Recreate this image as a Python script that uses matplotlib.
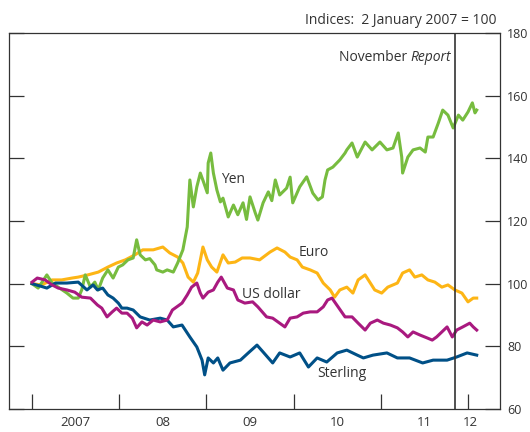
import matplotlib
matplotlib.use('Agg')
import matplotlib.pyplot as plt

plt.rcParams['font.family'] = ['Open Sans', 'DejaVu Sans']

# dates as decimal years, values are indices (2 January 2007 = 100)
yen_t = [2007.00, 2007.07, 2007.17, 2007.23, 2007.30, 2007.40, 2007.47, 2007.53, 2007.57, 2007.61,
         2007.67, 2007.72, 2007.76, 2007.81, 2007.87, 2007.93, 2007.99, 2008.04, 2008.10, 2008.16,
         2008.20, 2008.24, 2008.30, 2008.35, 2008.41, 2008.43, 2008.50, 2008.55, 2008.62, 2008.67,
         2008.73, 2008.78, 2008.81, 2008.85, 2008.89, 2008.93, 2008.96, 2009.01, 2009.02, 2009.05,
         2009.08, 2009.12, 2009.16, 2009.19, 2009.25, 2009.31, 2009.36, 2009.42, 2009.46, 2009.50,
         2009.56, 2009.59, 2009.65, 2009.71, 2009.75, 2009.79, 2009.84, 2009.92, 2009.96, 2009.99,
         2010.07, 2010.15, 2010.22, 2010.28, 2010.33, 2010.36, 2010.39, 2010.45, 2010.53, 2010.59,
         2010.61, 2010.67, 2010.73, 2010.82, 2010.90, 2010.99, 2011.07, 2011.14, 2011.20, 2011.24,
         2011.25, 2011.31, 2011.37, 2011.45, 2011.51, 2011.54, 2011.60, 2011.66, 2011.71, 2011.77,
         2011.83, 2011.89, 2011.94, 2012.00, 2012.05, 2012.08, 2012.10]
yen_v = [100.0, 98.6, 102.8, 100.2, 98.9, 97.0, 95.4, 95.4, 98.0, 102.8,
         98.9, 100.5, 98.0, 101.8, 104.4, 101.8, 105.3, 106.0, 107.6, 108.2,
         114.0, 109.2, 107.6, 108.0, 106.0, 104.4, 103.7, 104.4, 103.7, 106.6,
         110.8, 118.1, 133.1, 124.5, 130.9, 135.3, 133.0, 129.0, 138.5, 141.7,
         135.3, 129.9, 126.1, 127.3, 121.3, 125.1, 122.0, 125.8, 120.5, 127.7,
         122.6, 120.3, 125.8, 129.3, 126.5, 133.1, 128.3, 130.5, 134.0, 125.8,
         130.9, 134.1, 128.9, 126.7, 127.7, 133.1, 136.3, 137.2, 139.5, 141.7,
         142.7, 144.9, 140.4, 145.2, 142.7, 145.2, 142.7, 143.3, 148.1, 140.4,
         135.3, 140.4, 142.7, 143.3, 142.0, 146.8, 146.8, 151.3, 155.4, 153.8,
         149.7, 153.8, 152.2, 154.8, 157.7, 154.5, 155.4]

euro_t = [2007.00, 2007.11, 2007.23, 2007.34, 2007.46, 2007.53, 2007.64, 2007.76, 2007.87, 2007.97,
          2008.07, 2008.18, 2008.27, 2008.39, 2008.50, 2008.58, 2008.67, 2008.73, 2008.79, 2008.85,
          2008.90, 2008.96, 2009.01, 2009.06, 2009.12, 2009.19, 2009.25, 2009.33, 2009.41, 2009.50,
          2009.61, 2009.73, 2009.81, 2009.90, 2009.96, 2010.04, 2010.10, 2010.19, 2010.27, 2010.34,
          2010.42, 2010.47, 2010.53, 2010.61, 2010.68, 2010.74, 2010.82, 2010.88, 2010.93, 2011.01,
          2011.08, 2011.19, 2011.25, 2011.33, 2011.39, 2011.47, 2011.54, 2011.62, 2011.70, 2011.77,
          2011.85, 2011.93, 2012.00, 2012.06, 2012.10]
euro_v = [100.0, 99.6, 101.2, 101.2, 101.8, 102.1, 102.8, 103.7, 105.3, 106.6,
          107.6, 109.2, 110.8, 110.8, 111.7, 109.8, 108.5, 106.6, 102.1, 100.5,
          103.4, 111.7, 107.6, 105.3, 103.7, 109.2, 106.6, 106.9, 108.2, 108.2,
          107.6, 110.1, 111.4, 110.1, 108.5, 107.6, 105.3, 104.4, 103.4, 100.2,
          98.0, 95.7, 98.0, 98.9, 97.0, 101.2, 102.8, 100.2, 98.0, 97.0,
          98.9, 100.2, 103.4, 104.4, 102.1, 102.8, 101.2, 100.5, 98.9, 99.6,
          98.0, 97.0, 94.2, 95.4, 95.4]

usd_t = [2007.00, 2007.06, 2007.15, 2007.23, 2007.30, 2007.40, 2007.49, 2007.57, 2007.67, 2007.75,
         2007.80, 2007.86, 2007.92, 2007.97, 2008.03, 2008.09, 2008.15, 2008.20, 2008.26, 2008.32,
         2008.39, 2008.47, 2008.55, 2008.61, 2008.66, 2008.72, 2008.78, 2008.83, 2008.89, 2008.93,
         2008.96, 2009.02, 2009.08, 2009.13, 2009.17, 2009.24, 2009.31, 2009.36, 2009.44, 2009.53,
         2009.59, 2009.69, 2009.76, 2009.84, 2009.90, 2009.96, 2010.04, 2010.11, 2010.19, 2010.27,
         2010.34, 2010.39, 2010.44, 2010.51, 2010.59, 2010.67, 2010.74, 2010.82, 2010.88, 2010.96,
         2011.03, 2011.11, 2011.19, 2011.25, 2011.31, 2011.37, 2011.45, 2011.53, 2011.59, 2011.64,
         2011.70, 2011.76, 2011.82, 2011.87, 2011.94, 2012.02, 2012.06, 2012.10]
usd_v = [100.5, 101.8, 101.2, 99.6, 98.6, 98.0, 97.3, 95.7, 95.4, 93.2,
         92.2, 89.4, 91.0, 92.2, 90.6, 90.6, 89.0, 85.9, 87.8, 86.8,
         88.4, 87.8, 88.4, 91.6, 92.6, 93.8, 96.4, 98.9, 100.2, 97.0,
         95.4, 97.3, 98.0, 100.5, 102.1, 98.6, 98.0, 94.8, 93.8, 94.2,
         92.6, 89.4, 89.0, 87.4, 86.2, 89.0, 89.4, 90.6, 91.0, 91.0,
         92.6, 94.8, 95.4, 92.6, 89.4, 89.4, 87.4, 85.2, 87.4, 88.4,
         87.4, 86.8, 85.9, 84.6, 83.0, 84.6, 83.6, 82.7, 82.0, 83.0,
         84.6, 86.2, 83.0, 85.2, 86.2, 87.4, 86.2, 85.2]

gbp_t = [2007.00, 2007.10, 2007.17, 2007.27, 2007.40, 2007.53, 2007.63, 2007.70, 2007.75, 2007.81,
         2007.87, 2007.93, 2007.99, 2008.03, 2008.09, 2008.16, 2008.24, 2008.35, 2008.47, 2008.55,
         2008.62, 2008.72, 2008.81, 2008.89, 2008.95, 2008.98, 2009.02, 2009.08, 2009.13, 2009.19,
         2009.27, 2009.39, 2009.48, 2009.58, 2009.65, 2009.76, 2009.84, 2009.96, 2010.07, 2010.17,
         2010.27, 2010.38, 2010.50, 2010.61, 2010.73, 2010.80, 2010.91, 2011.07, 2011.19, 2011.33,
         2011.48, 2011.60, 2011.76, 2011.87, 2011.99, 2012.10]
gbp_v = [100.0, 99.2, 98.6, 100.2, 100.2, 100.5, 98.0, 99.6, 98.0, 98.6,
         96.4, 95.4, 93.8, 92.2, 92.2, 91.6, 89.4, 88.4, 89.0, 88.4,
         86.2, 86.8, 83.0, 79.8, 75.6, 70.9, 76.3, 74.7, 76.3, 72.4,
         74.7, 75.6, 77.9, 80.4, 78.2, 74.7, 77.9, 76.6, 77.9, 73.4,
         76.3, 75.0, 77.9, 78.8, 77.2, 76.3, 77.2, 77.9, 76.3, 76.3,
         74.7, 75.6, 75.6, 76.6, 77.9, 77.2]

year_ticks = [2007, 2008, 2009, 2010, 2011, 2012]
year_label_pos = [2007.5, 2008.5, 2009.5, 2010.5, 2011.5, 2012.03]
year_labels = ['2007', '08', '09', '10', '11', '12']
report_date = 2011.85

fig = plt.figure(figsize=(5.30, 4.32), dpi=100)
ax = fig.add_axes([0.017, 0.0532, 0.9264, 0.8704])

ax.plot(euro_t, euro_v, color='#FDB515', lw=2.2)
ax.plot(yen_t, yen_v, color='#77BC3F', lw=2.2)
ax.plot(gbp_t, gbp_v, color='#005087', lw=2.2)
ax.plot(usd_t, usd_v, color='#A9197F', lw=2.2)

ax.axvline(report_date, color='#333333', lw=1.2)

ax.set_xlim(2006.736, 2012.367)
ax.set_ylim(60, 180)

ax.set_xticks(year_ticks)
ax.set_xticklabels([])
ax.set_xticks(year_label_pos, minor=True)
ax.set_xticklabels(year_labels, minor=True)
ax.tick_params(axis='x', which='major', direction='in', length=11, width=0.9, color='#333333')
ax.tick_params(axis='x', which='minor', length=0, pad=5, labelsize=9.5, labelcolor='#333333')

ax.set_yticks([60, 80, 100, 120, 140, 160, 180])
ax.yaxis.tick_right()
ax.tick_params(axis='y', which='both', direction='in', length=11, width=0.9, color='#333333',
               left=True, right=True, labelleft=False, labelright=True, pad=5,
               labelsize=9, labelcolor='#333333')

for s in ax.spines.values():
    s.set_color('#333333')
    s.set_linewidth(0.9)

ax.text(2009.30, 133.4, 'Yen', ha='center', va='center', fontsize=10, color='#333333')
ax.text(2010.23, 110.1, 'Euro', ha='center', va='center', fontsize=10, color='#333333')
ax.text(2009.74, 96.7, 'US dollar', ha='center', va='center', fontsize=10, color='#333333')
ax.text(2010.55, 71.2, 'Sterling', ha='center', va='center', fontsize=10, color='#333333')
rep = ax.text(report_date - 0.04, 172.3, 'Report', ha='right', va='center',
              fontsize=10, style='italic', color='#333333')
ax.annotate('November ', xy=(0, 0), xycoords=rep, ha='right', va='bottom',
            fontsize=10, color='#333333')

fig.text(0.937, 0.953, 'Indices:  2 January 2007 = 100', ha='right', va='center',
         fontsize=10, color='#333333')

fig.savefig('out.png', dpi=100)
